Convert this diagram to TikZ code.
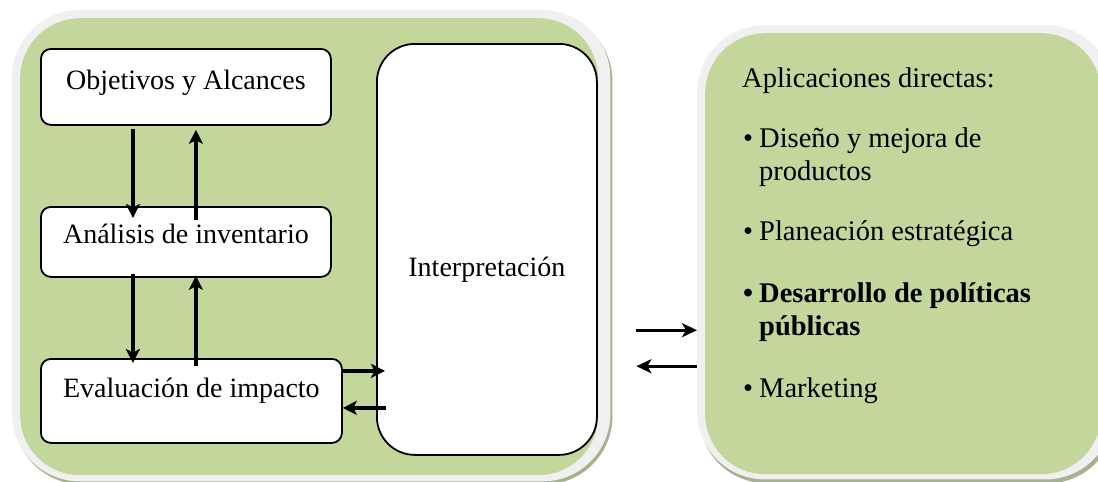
\documentclass[tikz,border=0pt]{standalone}
\usepackage{fontspec}
\setmainfont{Liberation Serif}
\usetikzlibrary{arrows.meta,calc,backgrounds}
\definecolor{panelgreen}{RGB}{195,214,156}
\definecolor{ringgray}{RGB}{240,240,240}
\definecolor{shadowcol}{RGB}{166,178,143}
\tikzset{
  panel/.style={rectangle, fill=panelgreen, rounded corners=60pt, inner sep=0pt, anchor=north west},
  stagebox/.style={rectangle, draw=black, line width=1.8pt, fill=white, rounded corners=10pt,
    inner xsep=0pt, inner ysep=0pt, anchor=north west, font=\fontsize{28}{33}\selectfont},
  arr/.style={line width=3.8pt, -{Stealth[length=14pt,width=14pt,inset=3.5pt]}},
  arrthin/.style={line width=3pt, -{Stealth[length=15pt,width=14pt,inset=4pt]}},
  itemtext/.style={anchor=base west, inner sep=0pt, align=left, font=\fontsize{28.5}{33}\selectfont}
}
\begin{document}
\begin{tikzpicture}[x=1pt,y=-1pt]
\useasboundingbox (0,0) rectangle (1098,482);

% green panels
\node[panel, minimum width=578pt, minimum height=457pt] (leftbig) at (20,18) {};
\node[panel, minimum width=396pt, minimum height=441pt] (rightbig) at (705,33) {};

% pale rim and soft shadow behind each panel
\begin{scope}[on background layer]
  \fill[shadowcol, rounded corners=68pt]
    ([xshift=-6pt,yshift=5pt]leftbig.north west) rectangle ([xshift=14pt,yshift=-9pt]leftbig.south east);
  \fill[ringgray, rounded corners=68pt]
    ([xshift=-8pt,yshift=8pt]leftbig.north west) rectangle ([xshift=12pt,yshift=-6pt]leftbig.south east);
  \fill[shadowcol, rounded corners=68pt]
    ([xshift=-6pt,yshift=5pt]rightbig.north west) rectangle ([xshift=14pt,yshift=-9pt]rightbig.south east);
  \fill[ringgray, rounded corners=68pt]
    ([xshift=-8pt,yshift=8pt]rightbig.north west) rectangle ([xshift=12pt,yshift=-5pt]rightbig.south east);
\end{scope}

% stages of the assessment
\node[stagebox, minimum width=290pt, text height=41pt, text depth=35pt] (obj) at (40,48) {Objetivos y Alcances};
\node[stagebox, minimum width=290pt, text height=37pt, text depth=33pt] (ana) at (40,206) {Análisis de inventario};
\node[stagebox, minimum width=301pt, text height=39pt, text depth=45pt] (eva) at (40,358) {Evaluación de impacto};
\node[stagebox, rounded corners=38pt, minimum width=220pt, text height=233pt, text depth=178pt] (int) at (376,43) {Interpretación};

% vertical feedback arrows
\draw[arr] ([xshift=-53pt,yshift=-3pt]obj.south) -- ([xshift=-53pt,yshift=-12pt]ana.north);
\draw[arr] ([xshift=10pt,yshift=-14pt]ana.north) -- ([xshift=10pt,yshift=-4pt]obj.south);
\draw[arr] ([xshift=-53pt,yshift=4pt]ana.south) -- ([xshift=-58.5pt,yshift=-5pt]eva.north);
\draw[arr] ([xshift=4.5pt,yshift=-8pt]eva.north) -- ([xshift=10pt,yshift=2pt]ana.south);

% exchange with the interpretation stage
\coordinate (e1) at ($(eva.east)+(0,-30)$);
\coordinate (e2) at ($(eva.east)+(0,7)$);
\draw[arr, shorten >=-9pt] (e1) -- (e1 -| int.west);
\draw[arr, shorten <=-10pt] (e2 -| int.west) -- (e2);

% exchange with the applications panel
\coordinate (g1) at ($(leftbig.east)+(38,83.5)$);
\coordinate (g2) at ($(leftbig.east)+(38,119.5)$);
\draw[arrthin, shorten >=8pt] (g1) -- (g1 -| rightbig.west);
\draw[arrthin, shorten <=8pt] (g2 -| rightbig.west) -- (g2);

% applications (multi-line entries are placed by their last baseline)
\node[itemtext] (title) at (742,87) {Aplicaciones directas:};
\node[itemtext] (it1) at (743,180) {\makebox[16pt][l]{•}Diseño y mejora de\\\hspace*{16pt}productos};
\node[itemtext] (it2) at (743,240) {\makebox[16pt][l]{•}Planeación estratégica};
\node[itemtext, font=\fontsize{28.5}{33}\selectfont\bfseries] (it3) at (743,335)
  {\makebox[16pt][l]{•}Desarrollo de políticas\\\hspace*{16pt}públicas};
\node[itemtext] (it4) at (743,397) {\makebox[16pt][l]{•}Marketing};
\end{tikzpicture}
\end{document}
